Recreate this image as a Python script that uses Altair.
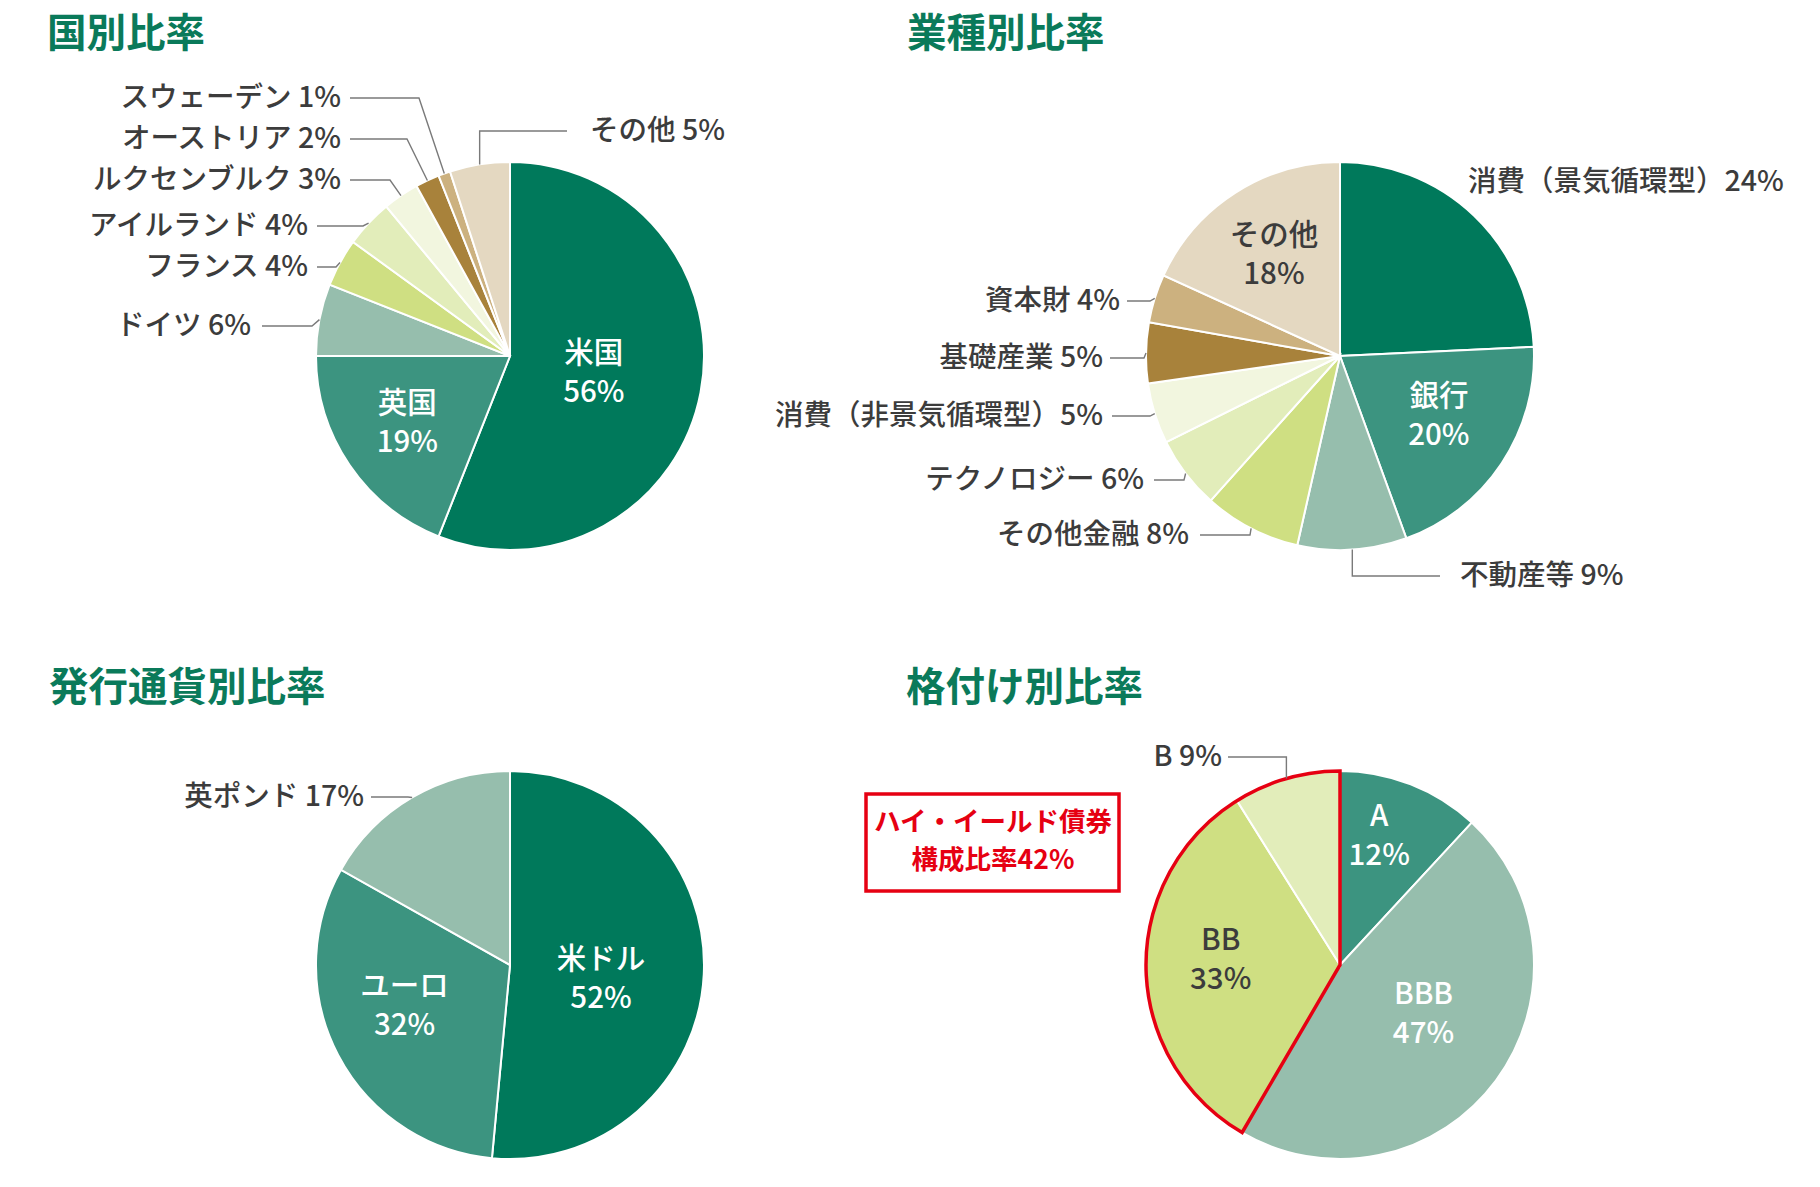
import math
import altair as alt
import pandas as pd

# ---------------- data ----------------
country_names = ["米国", "英国", "ドイツ", "フランス", "アイルランド", "ルクセンブルク", "オーストリア", "スウェーデン", "その他"]
country_values = [56, 19, 6, 4, 4, 3, 2, 1, 5]

sector_names = ["消費（景気循環型）", "銀行", "不動産等", "その他金融", "テクノロジー", "消費（非景気循環型）", "基礎産業", "資本財", "その他"]
sector_values = [24, 20, 9, 8, 6, 5, 5, 4, 18]

currency_names = ["米ドル", "ユーロ", "英ポンド"]
currency_values = [52, 32, 17]

rating_names = ["A", "BBB", "BB", "B"]
rating_values = [12, 47, 33, 9]
high_yield_ratings = ["BB", "B"]

titles = ["国別比率", "業種別比率", "発行通貨別比率", "格付け別比率"]
hy_box_lines = ["ハイ・イールド債券", "構成比率"]

# ---------------- style / layout ----------------
palette = ["#00795b", "#3c9480", "#96bead", "#cfdf82", "#e2edba",
           "#f2f6df", "#a8823b", "#ccb17f", "#e4d8c1"]
TITLE_COLOR = "#0a7a5a"
TEXT_DARK = "#3c3c3c"
LINE_COLOR = "#7a7a7a"
RED = "#e60012"
FONT = "Noto Sans CJK JP"
W, H = 1820, 1187
R = 194
IN_LH = 39  # inside label line height

# inside: name -> (radius fraction, text colour, dx, dy)
# outside: name -> (text x, text y, align, leader start x, elbow x or None=vertical)
panels = [
    dict(names=country_names, values=country_values, colors=palette,
         cx=510, cy=356, title=titles[0], tx=47, ty=35,
         inside={"米国": (0.44, "white", 0, 2), "英国": (0.64, "white", 0, -2)},
         outside={"ドイツ": (251, 326, "right", 262, 312),
                  "フランス": (308, 267, "right", 317, 336),
                  "アイルランド": (308, 226, "right", 317, 363),
                  "ルクセンブルク": (341, 180, "right", 350, 390),
                  "オーストリア": (341, 139, "right", 350, 407),
                  "スウェーデン": (341, 98, "right", 350, 419),
                  "その他": (590, 131, "left", 567, None)}),
    dict(names=sector_names, values=sector_values, colors=palette,
         cx=1340, cy=356, title=titles[1], tx=907, ty=35,
         inside={"銀行": (0.60, "white", 2, -4), "その他": (0.63, TEXT_DARK, 0, 2)},
         outside={"消費（景気循環型）": (1468, 182, "left", None, None),
                  "不動産等": (1460, 576, "left", 1440, None),
                  "その他金融": (1189, 535, "right", 1200, 1250),
                  "テクノロジー": (1144, 480, "right", 1154, 1184),
                  "消費（非景気循環型）": (1103, 416, "right", 1112, 1150),
                  "基礎産業": (1103, 358, "right", 1110, 1144),
                  "資本財": (1120, 301, "right", 1127, 1150)}),
    dict(names=currency_names, values=currency_values, colors=palette[:3],
         cx=510, cy=965, title=titles[2], tx=49, ty=689,
         inside={"米ドル": (0.48, "white", -2, 10), "ユーロ": (0.59, "white", -4, -12)},
         outside={"英ポンド": (364, 797, "right", 371, 408)}),
    dict(names=rating_names, values=rating_values, colors=palette[1:5],
         cx=1340, cy=965, title=titles[3], tx=906, ty=689,
         inside={"A": (0.71, "white", -11, 0), "BBB": (0.51, "white", 4, -9),
                 "BB": (0.61, TEXT_DARK, -1, -6)},
         outside={"B": (1222, 757, "right", 1228, None)}),
]

HY_BOX = (866, 794, 1119, 891)
HY_TEXT_X, HY_TEXT_Y = 993, (823, 861)

xs = alt.Scale(domain=[0, W], nice=False, zero=False)
ys = alt.Scale(domain=[0, H], nice=False, zero=False, reverse=True)


def pct_label(name, v):
    sep = "" if name.endswith("）") else " "
    return f"{name}{sep}{v}%"


layers = []
title_rows, inside_rows, out_rows, line_rows = [], [], [], []

for p in panels:
    names, values = p["names"], p["values"]
    total = float(sum(values))
    df = pd.DataFrame({"name": names, "value": values,
                       "i": list(range(len(names))), "color": p["colors"]})
    layers.append(
        alt.Chart(df).mark_arc(outerRadius=R, stroke="white", strokeWidth=2)
        .encode(theta=alt.Theta("value:Q", stack="normalize"),
                color=alt.Color("color:N", scale=None),
                order=alt.Order("i:Q"),
                x=alt.value(p["cx"]), y=alt.value(p["cy"]))
    )
    title_rows.append({"x": p["tx"], "y": p["ty"], "text": p["title"]})
    cum = 0.0
    for n, v in zip(names, values):
        mid = (cum + v / 2.0) / total * 2 * math.pi
        cum += v
        if n in p["inside"]:
            rf, col, dx, dy = p["inside"][n]
            inside_rows.append({"x": p["cx"] + rf * R * math.sin(mid) + dx,
                                "y": p["cy"] - rf * R * math.cos(mid) + dy - IN_LH / 2,
                                "text": f"{n}\n{v}%", "color": col})
        if n in p["outside"]:
            tx, ty, al, x0, ex = p["outside"][n]
            out_rows.append({"x": tx, "y": ty, "text": pct_label(n, v), "align": al})
            if x0 is not None:
                edx = p["cx"] + R * math.sin(mid)
                edy = p["cy"] - R * math.cos(mid)
                if ex is None:
                    ex = edx
                key = p["title"] + n
                line_rows += [{"id": key, "k": 0, "x": x0, "y": ty},
                              {"id": key, "k": 1, "x": ex, "y": ty},
                              {"id": key, "k": 2, "x": edx, "y": edy}]

# red outline around the high-yield sector of the rating pie
p4 = panels[3]
hy_sum = sum(v for n, v in zip(rating_names, rating_values) if n in high_yield_ratings)
ig_sum = sum(v for n, v in zip(rating_names, rating_values) if n not in high_yield_ratings)
hy_df = pd.DataFrame({"value": [ig_sum, hy_sum], "i": [0, 1],
                      "sc": ["transparent", RED]})
layers.append(
    alt.Chart(hy_df).mark_arc(outerRadius=R, strokeWidth=3.5, fillOpacity=0, strokeJoin="miter")
    .encode(theta=alt.Theta("value:Q", stack="normalize"),
            stroke=alt.Stroke("sc:N", scale=None),
            order=alt.Order("i:Q"),
            x=alt.value(p4["cx"]), y=alt.value(p4["cy"]))
)

# leader lines
layers.append(
    alt.Chart(pd.DataFrame(line_rows)).mark_line(color=LINE_COLOR, strokeWidth=1.4)
    .encode(x=alt.X("x:Q", scale=xs, axis=None), y=alt.Y("y:Q", scale=ys, axis=None),
            detail="id:N", order="k:Q")
)

# titles
layers.append(
    alt.Chart(pd.DataFrame(title_rows)).mark_text(
        align="left", baseline="middle", font=FONT, fontSize=39.5, fontWeight="bold", color=TITLE_COLOR)
    .encode(x=alt.X("x:Q", scale=xs, axis=None), y=alt.Y("y:Q", scale=ys, axis=None), text="text:N")
)

# inside labels
layers.append(
    alt.Chart(pd.DataFrame(inside_rows)).mark_text(
        align="center", baseline="middle", font=FONT, fontSize=29.5, fontWeight=500,
        lineBreak="\n", lineHeight=IN_LH)
    .encode(x=alt.X("x:Q", scale=xs, axis=None), y=alt.Y("y:Q", scale=ys, axis=None),
            text="text:N", color=alt.Color("color:N", scale=None))
)

# outside labels
out_df = pd.DataFrame(out_rows)
for al in ["left", "right"]:
    layers.append(
        alt.Chart(out_df[out_df["align"] == al]).mark_text(
            align=al, baseline="middle", font=FONT, fontSize=28.5, fontWeight=500, color=TEXT_DARK)
        .encode(x=alt.X("x:Q", scale=xs, axis=None), y=alt.Y("y:Q", scale=ys, axis=None), text="text:N")
    )

# high-yield box
bx0, by0, bx1, by1 = HY_BOX
layers.append(
    alt.Chart(pd.DataFrame({"a": [0]})).mark_rect(fillOpacity=0, stroke=RED, strokeWidth=3.5)
    .encode(x=alt.value(bx0), x2=alt.value(bx1), y=alt.value(by0), y2=alt.value(by1))
)
box_df = pd.DataFrame({"x": [HY_TEXT_X, HY_TEXT_X], "y": list(HY_TEXT_Y),
                       "text": [hy_box_lines[0], f"{hy_box_lines[1]}{hy_sum}%"]})
layers.append(
    alt.Chart(box_df).mark_text(align="center", baseline="middle", font=FONT, fontSize=26.5,
                                fontWeight="bold", color=RED)
    .encode(x=alt.X("x:Q", scale=xs, axis=None), y=alt.Y("y:Q", scale=ys, axis=None), text="text:N")
)

chart = alt.layer(*layers).properties(
    width=W, height=H, padding=0, autosize=alt.AutoSizeParams(type="none"), background="white"
).configure_view(stroke=None)

chart.save("out.html", embed_options={"renderer": "svg", "actions": False})
